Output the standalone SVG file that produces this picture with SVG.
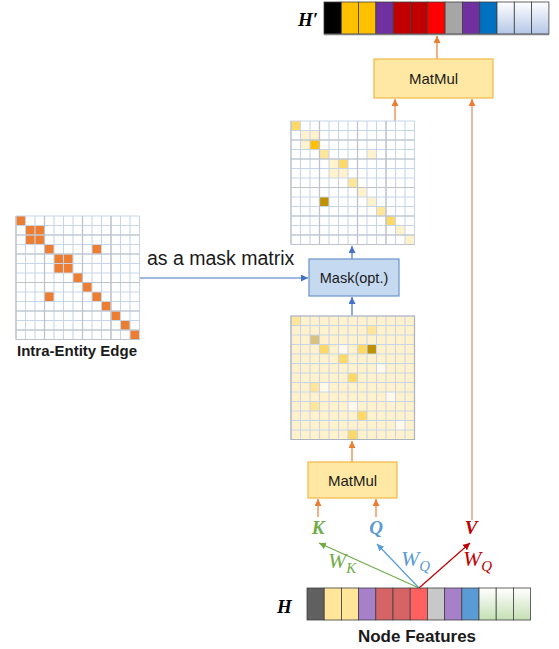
<svg xmlns="http://www.w3.org/2000/svg" width="559" height="649" viewBox="0 0 559 649">
<style>
.lbl{font-family:"Liberation Sans",Arial,sans-serif;fill:#1a1a1a}
.b{font-weight:bold}
.var{font-family:"Liberation Serif","Times New Roman",serif;font-style:italic;font-weight:bold}
.w{font-family:"Liberation Serif","Times New Roman",serif;font-style:italic}
.grid{fill:none;stroke:#C8D5E8;stroke-width:1.1}
.gridk{fill:none;stroke:#BEC2C9;stroke-width:1.2}
.cell{stroke:#404040;stroke-width:0.8}
.mm{fill:#FFE8A3;stroke:#F0B848;stroke-width:1.2}
.mask{fill:#C5D9F1;stroke:#6A94C8;stroke-width:1.2}
.ao{stroke:#ED7D31;stroke-width:1.2;fill:none;marker-end:url(#mo)}
.ab{stroke:#4472C4;stroke-width:1.2;fill:none;marker-end:url(#mb)}
</style>
<defs>
<marker id="mo" markerUnits="userSpaceOnUse" markerWidth="8" markerHeight="8" refX="7" refY="3.5" orient="auto"><path d="M0 0L7 3.5L0 7z" fill="#ED7D31"/></marker>
<marker id="mb" markerUnits="userSpaceOnUse" markerWidth="8" markerHeight="8" refX="7" refY="3.5" orient="auto"><path d="M0 0L7 3.5L0 7z" fill="#4472C4"/></marker>
<marker id="mg" markerUnits="userSpaceOnUse" markerWidth="8" markerHeight="8" refX="7" refY="3.5" orient="auto"><path d="M0 0L7 3.5L0 7z" fill="#70AD47"/></marker>
<marker id="ml" markerUnits="userSpaceOnUse" markerWidth="8" markerHeight="8" refX="7" refY="3.5" orient="auto"><path d="M0 0L7 3.5L0 7z" fill="#5B9BD5"/></marker>
<marker id="mr" markerUnits="userSpaceOnUse" markerWidth="8" markerHeight="8" refX="7" refY="3.5" orient="auto"><path d="M0 0L7 3.5L0 7z" fill="#C00000"/></marker>
<linearGradient id="gblue" x1="0" y1="0" x2="0" y2="1"><stop offset="0" stop-color="#FFFFFF"/><stop offset="1" stop-color="#B4C7E7"/></linearGradient>
<linearGradient id="ggreen" x1="0" y1="0" x2="0" y2="1"><stop offset="0" stop-color="#FFFFFF"/><stop offset="1" stop-color="#C5E0B4"/></linearGradient>
<path id="gridpath" class="grid" d="M0 0V123.5M9.5 0V123.5M19 0V123.5M28.5 0V123.5M38 0V123.5M47.5 0V123.5M57 0V123.5M66.5 0V123.5M76 0V123.5M85.5 0V123.5M95 0V123.5M104.5 0V123.5M114 0V123.5M123.5 0V123.5M0 0H123.5M0 9.5H123.5M0 19H123.5M0 28.5H123.5M0 38H123.5M0 47.5H123.5M0 57H123.5M0 66.5H123.5M0 76H123.5M0 85.5H123.5M0 95H123.5M0 104.5H123.5M0 114H123.5M0 123.5H123.5"/>
<path id="gridk" class="gridk" d="M28.5 0V123.5M66.5 0V123.5M95 0V123.5M0 19H123.5M0 38H123.5M0 66.5H123.5M0 95H123.5M0 114H123.5M0 123.5H123.5M0 0V123.5"/>
</defs>
<rect width="559" height="649" fill="#FFFFFF"/>

<g id="connectors">
<line class="ao" x1="437" y1="59" x2="437" y2="36"/>
<line class="ao" x1="395" y1="121" x2="395" y2="99"/>
<line x1="472" y1="520" x2="472" y2="104" stroke="#D98A66" stroke-width="1.2"/>
<line class="ao" x1="472" y1="106" x2="472" y2="99"/>
<line class="ab" x1="352" y1="259" x2="352" y2="246"/>
<line class="ab" x1="352" y1="316" x2="352" y2="297"/>
<line class="ab" x1="139.5" y1="278" x2="308" y2="278"/>
<line class="ao" x1="352" y1="462" x2="352" y2="441"/>
<line class="ao" x1="318" y1="517" x2="318" y2="499"/>
<line class="ao" x1="376" y1="517" x2="376" y2="499"/>
<line x1="419" y1="588" x2="319" y2="543" stroke="#70AD47" stroke-width="1.2" marker-end="url(#mg)"/>
<line x1="419" y1="588" x2="377" y2="544" stroke="#5B9BD5" stroke-width="1.2" marker-end="url(#ml)"/>
<line x1="419" y1="588" x2="470" y2="543" stroke="#C00000" stroke-width="1.2" marker-end="url(#mr)"/>
<text class="lbl" x="147" y="265" font-size="19.5">as a mask matrix</text>
<text class="w" x="328" y="568" font-size="22" fill="#70AD47">W<tspan font-size="15" dy="5">K</tspan></text>
<text class="w" x="401" y="566" font-size="22" fill="#5B9BD5">W<tspan font-size="15" dy="5">Q</tspan></text>
<text class="w" x="463" y="566" font-size="22" fill="#C00000">W<tspan font-size="15" dy="5">Q</tspan></text>
</g>

<g id="h-prime">
<text class="var" x="298" y="26" font-size="19">H′</text>
<rect class="cell" x="324" y="2" width="17.3" height="32" fill="#000000"/>
<rect class="cell" x="341.3" y="2" width="17.3" height="32" fill="#FFC000"/>
<rect class="cell" x="358.6" y="2" width="17.3" height="32" fill="#FFC000"/>
<rect class="cell" x="375.9" y="2" width="17.3" height="32" fill="#7030A0"/>
<rect class="cell" x="393.2" y="2" width="17.3" height="32" fill="#C00000"/>
<rect class="cell" x="410.5" y="2" width="17.3" height="32" fill="#C00000"/>
<rect class="cell" x="427.8" y="2" width="17.3" height="32" fill="#FF0000"/>
<rect class="cell" x="445.1" y="2" width="17.3" height="32" fill="#A6A6A6"/>
<rect class="cell" x="462.4" y="2" width="17.3" height="32" fill="#7030A0"/>
<rect class="cell" x="479.7" y="2" width="17.3" height="32" fill="#0070C0"/>
<rect class="cell" x="497" y="2" width="17.3" height="32" fill="url(#gblue)"/>
<rect class="cell" x="514.3" y="2" width="17.3" height="32" fill="url(#gblue)"/>
<rect class="cell" x="531.6" y="2" width="17.3" height="32" fill="url(#gblue)"/>
<line x1="324" y1="34.5" x2="549" y2="34.5" stroke="#7F7F7F" stroke-width="1.6"/>
</g>

<g id="matmul-top">
<rect class="mm" x="374" y="59" width="119" height="39"/>
<text class="lbl" x="433.5" y="84" font-size="15" text-anchor="middle">MatMul</text>
</g>

<g id="attn-masked" transform="translate(291 121)">
<rect width="123.5" height="123.5" fill="#FFFFFF"/>
<rect x="0" y="0" width="9.5" height="9.5" fill="#FFD966"/>
<rect x="9.5" y="9.5" width="9.5" height="9.5" fill="#FFF2CC"/>
<rect x="19" y="9.5" width="9.5" height="9.5" fill="#FFF2CC"/>
<rect x="9.5" y="19" width="9.5" height="9.5" fill="#FFF2CC"/>
<rect x="19" y="19" width="9.5" height="9.5" fill="#FFC000"/>
<rect x="28.5" y="28.5" width="9.5" height="9.5" fill="#FFE699"/>
<rect x="76" y="28.5" width="9.5" height="9.5" fill="#FFF2CC"/>
<rect x="38" y="38" width="9.5" height="9.5" fill="#FFF2CC"/>
<rect x="47.5" y="38" width="9.5" height="9.5" fill="#FFD966"/>
<rect x="38" y="47.5" width="9.5" height="9.5" fill="#FFF2CC"/>
<rect x="47.5" y="47.5" width="9.5" height="9.5" fill="#FFF2CC"/>
<rect x="57" y="57" width="9.5" height="9.5" fill="#FFE699"/>
<rect x="66.5" y="66.5" width="9.5" height="9.5" fill="#FFF2CC"/>
<rect x="28.5" y="76" width="9.5" height="9.5" fill="#BF9000"/>
<rect x="76" y="76" width="9.5" height="9.5" fill="#FFF2CC"/>
<rect x="85.5" y="85.5" width="9.5" height="9.5" fill="#FFE699"/>
<rect x="95" y="95" width="9.5" height="9.5" fill="#FFD966"/>
<rect x="104.5" y="104.5" width="9.5" height="9.5" fill="#FFF2CC"/>
<rect x="114" y="114" width="9.5" height="9.5" fill="#FFF2CC"/>
<use href="#gridpath"/>
<use href="#gridk"/>
</g>

<g id="intra-entity">
<g transform="translate(16 216)">
<rect width="123.5" height="123.5" fill="#FFFFFF"/>
<g fill="#ED7D31">
<rect x="0" y="0" width="9.5" height="9.5"/>
<rect x="9.5" y="9.5" width="9.5" height="9.5"/>
<rect x="19" y="9.5" width="9.5" height="9.5"/>
<rect x="9.5" y="19" width="9.5" height="9.5"/>
<rect x="19" y="19" width="9.5" height="9.5"/>
<rect x="28.5" y="28.5" width="9.5" height="9.5"/>
<rect x="76" y="28.5" width="9.5" height="9.5"/>
<rect x="38" y="38" width="9.5" height="9.5"/>
<rect x="47.5" y="38" width="9.5" height="9.5"/>
<rect x="38" y="47.5" width="9.5" height="9.5"/>
<rect x="47.5" y="47.5" width="9.5" height="9.5"/>
<rect x="57" y="57" width="9.5" height="9.5"/>
<rect x="66.5" y="66.5" width="9.5" height="9.5"/>
<rect x="28.5" y="76" width="9.5" height="9.5"/>
<rect x="76" y="76" width="9.5" height="9.5"/>
<rect x="85.5" y="85.5" width="9.5" height="9.5"/>
<rect x="95" y="95" width="9.5" height="9.5"/>
<rect x="104.5" y="104.5" width="9.5" height="9.5"/>
<rect x="114" y="114" width="9.5" height="9.5"/>
</g>
<use href="#gridpath"/>
<use href="#gridk"/>
</g>
<text class="lbl b" x="77" y="356" font-size="15" text-anchor="middle">Intra-Entity Edge</text>
</g>

<g id="mask">
<rect class="mask" x="309" y="259" width="90" height="37"/>
<text class="lbl" x="354" y="283" font-size="14.5" text-anchor="middle">Mask(opt.)</text>
</g>

<g id="attn" transform="translate(291 316)">
<rect width="123.5" height="123.5" fill="#FFF2CC"/>
<rect x="0" y="0" width="9.5" height="9.5" fill="#FFE699"/>
<rect x="76" y="9.5" width="9.5" height="9.5" fill="#FFE699"/>
<rect x="19" y="19" width="9.5" height="9.5" fill="#D9C27F"/>
<rect x="28.5" y="28.5" width="9.5" height="9.5" fill="#FFD966"/>
<rect x="47.5" y="28.5" width="9.5" height="9.5" fill="#FFFAEB"/>
<rect x="66.5" y="28.5" width="9.5" height="9.5" fill="#FFD966"/>
<rect x="76" y="28.5" width="9.5" height="9.5" fill="#BF9000"/>
<rect x="47.5" y="38" width="9.5" height="9.5" fill="#FFD966"/>
<rect x="85.5" y="47.5" width="9.5" height="9.5" fill="#FFFAEB"/>
<rect x="57" y="57" width="9.5" height="9.5" fill="#FFD966"/>
<rect x="19" y="66.5" width="9.5" height="9.5" fill="#FFE699"/>
<rect x="28.5" y="66.5" width="9.5" height="9.5" fill="#FFFAEB"/>
<rect x="95" y="76" width="9.5" height="9.5" fill="#FFFAEB"/>
<rect x="19" y="85.5" width="9.5" height="9.5" fill="#FFE699"/>
<rect x="57" y="85.5" width="9.5" height="9.5" fill="#FFFAEB"/>
<rect x="66.5" y="95" width="9.5" height="9.5" fill="#FFD966"/>
<rect x="104.5" y="104.5" width="9.5" height="9.5" fill="#FFFAEB"/>
<rect x="57" y="114" width="9.5" height="9.5" fill="#FFD966"/>
<use href="#gridpath"/>
<path d="M0 0H123.5V123.5H0z" fill="none" stroke="#AEB4BE" stroke-width="1.2"/>
</g>

<g id="matmul-bottom">
<rect class="mm" x="308" y="462" width="89" height="36"/>
<text class="lbl" x="352.5" y="486" font-size="15" text-anchor="middle">MatMul</text>
</g>

<g id="k"><text class="var" x="318" y="534" font-size="19" text-anchor="middle" fill="#70AD47">K</text></g>
<g id="q"><text class="var" x="376" y="534" font-size="19" text-anchor="middle" fill="#5B9BD5">Q</text></g>
<g id="v"><text class="var" x="471" y="534" font-size="19" text-anchor="middle" fill="#C00000">V</text></g>

<g id="h">
<text class="var" x="277" y="613" font-size="19">H</text>
<rect class="cell" x="307" y="588" width="17.2" height="32" fill="#606060"/>
<rect class="cell" x="324.2" y="588" width="17.2" height="32" fill="#FFE699"/>
<rect class="cell" x="341.4" y="588" width="17.2" height="32" fill="#FFE699"/>
<rect class="cell" x="358.6" y="588" width="17.2" height="32" fill="#A680C8"/>
<rect class="cell" x="375.8" y="588" width="17.2" height="32" fill="#D66466"/>
<rect class="cell" x="393" y="588" width="17.2" height="32" fill="#D66466"/>
<rect class="cell" x="410.2" y="588" width="17.2" height="32" fill="#FF6161"/>
<rect class="cell" x="427.4" y="588" width="17.2" height="32" fill="#C8C8C8"/>
<rect class="cell" x="444.6" y="588" width="17.2" height="32" fill="#A680C8"/>
<rect class="cell" x="461.8" y="588" width="17.2" height="32" fill="#5B9BD5"/>
<rect class="cell" x="479" y="588" width="17.2" height="32" fill="url(#ggreen)"/>
<rect class="cell" x="496.2" y="588" width="17.2" height="32" fill="url(#ggreen)"/>
<rect class="cell" x="513.4" y="588" width="17.2" height="32" fill="url(#ggreen)"/>
<text class="lbl b" x="417" y="642" font-size="17" text-anchor="middle">Node Features</text>
</g>
</svg>
